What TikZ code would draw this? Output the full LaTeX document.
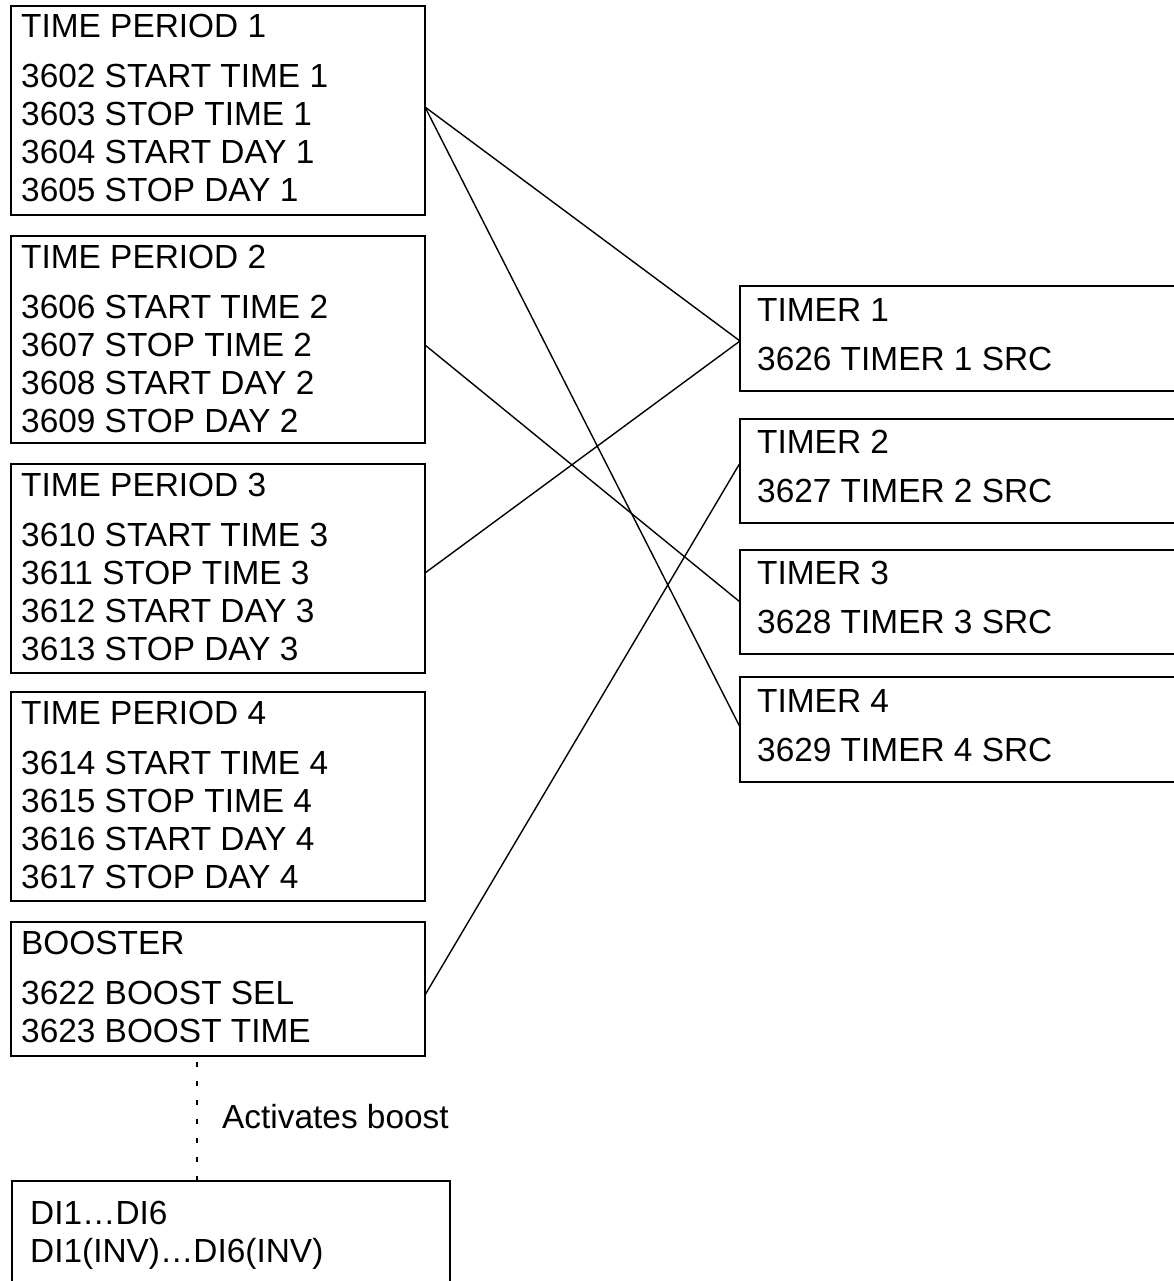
\documentclass[tikz,border=0pt]{standalone}
\usepackage{fontspec}
\setmainfont{Liberation Sans}
\begin{document}
\begin{tikzpicture}[x=1pt,y=-1pt,
  box/.style={draw, line width=2pt, inner sep=0pt, outer sep=0pt, anchor=north west, minimum width=414pt},
  lbl/.style={anchor=base west, inner sep=0pt, font=\fontsize{33.4}{38}\selectfont},
  conn/.style={line width=1.4pt},
  dashline/.style={line width=1.6pt, dash pattern=on 5pt off 14pt, dash phase=-6pt}]
\useasboundingbox (0,0) rectangle (1174,1281);
% left boxes
\node[box, minimum height=209pt] (tp1) at (11,6) {};
\node[box, minimum height=207pt] (tp2) at (11,236) {};
\node[box, minimum height=209pt] (tp3) at (11,464) {};
\node[box, minimum height=209pt] (tp4) at (11,692) {};
\node[box, minimum height=134pt] (boost) at (11,922) {};
\node[box, minimum width=438pt, minimum height=130pt] (di) at (12,1181) {};
% right boxes
\node[box, minimum width=460pt, minimum height=105pt] (tm1) at (740,286) {};
\node[box, minimum width=460pt, minimum height=104pt] (tm2) at (740,419) {};
\node[box, minimum width=460pt, minimum height=104pt] (tm3) at (740,550) {};
\node[box, minimum width=460pt, minimum height=105pt] (tm4) at (740,677) {};
% texts left
\node[lbl] (tp1t) at (21,38) {TIME PERIOD 1};
\node[lbl] (tp1a) at (21,88) {3602 START TIME 1};
\node[lbl] (tp1b) at (21,126) {3603 STOP TIME 1};
\node[lbl] (tp1c) at (21,164) {3604 START DAY 1};
\node[lbl] (tp1d) at (21,202) {3605 STOP DAY 1};
\node[lbl] (tp2t) at (21,268) {TIME PERIOD 2};
\node[lbl] (tp2a) at (21,318) {3606 START TIME 2};
\node[lbl] (tp2b) at (21,356) {3607 STOP TIME 2};
\node[lbl] (tp2c) at (21,394) {3608 START DAY 2};
\node[lbl] (tp2d) at (21,432) {3609 STOP DAY 2};
\node[lbl] (tp3t) at (21,496) {TIME PERIOD 3};
\node[lbl] (tp3a) at (21,546) {3610 START TIME 3};
\node[lbl] (tp3b) at (21,584) {3611 STOP TIME 3};
\node[lbl] (tp3c) at (21,622) {3612 START DAY 3};
\node[lbl] (tp3d) at (21,660) {3613 STOP DAY 3};
\node[lbl] (tp4t) at (21,724) {TIME PERIOD 4};
\node[lbl] (tp4a) at (21,774) {3614 START TIME 4};
\node[lbl] (tp4b) at (21,812) {3615 STOP TIME 4};
\node[lbl] (tp4c) at (21,850) {3616 START DAY 4};
\node[lbl] (tp4d) at (21,888) {3617 STOP DAY 4};
\node[lbl] (bt) at (21,954) {BOOSTER};
\node[lbl] (ba) at (21,1004) {3622 BOOST SEL};
\node[lbl] (bb) at (21,1042) {3623 BOOST TIME};
\node[lbl] (dia) at (30,1224) {DI1…DI6};
\node[lbl] (dib) at (30,1262) {DI1(INV)…DI6(INV)};
\node[lbl] (act) at (222,1128) {Activates boost};
% texts right
\node[lbl] (tm1t) at (757,321) {TIMER 1};
\node[lbl] (tm1a) at (757,370) {3626 TIMER 1 SRC};
\node[lbl] (tm2t) at (757,453) {TIMER 2};
\node[lbl] (tm2a) at (757,502) {3627 TIMER 2 SRC};
\node[lbl] (tm3t) at (757,584) {TIMER 3};
\node[lbl] (tm3a) at (757,633) {3628 TIMER 3 SRC};
\node[lbl] (tm4t) at (757,712) {TIMER 4};
\node[lbl] (tm4a) at (757,761) {3629 TIMER 4 SRC};
% connectors
\draw[conn] ([yshift=-101pt]tp1.north east) -- ([yshift=-55pt]tm1.north west);
\draw[conn] ([yshift=-101pt]tp1.north east) -- ([yshift=-50pt]tm4.north west);
\draw[conn] ([yshift=-109pt]tp2.north east) -- ([yshift=-52pt]tm3.north west);
\draw[conn] ([yshift=-109pt]tp3.north east) -- ([yshift=-55pt]tm1.north west);
\draw[conn] ([yshift=-73pt]boost.north east) -- ([yshift=-44pt]tm2.north west);
\coordinate (ds) at ([xshift=186pt]boost.south west);
\draw[dashline] (ds) -- (ds |- di.north);
\end{tikzpicture}
\end{document}
